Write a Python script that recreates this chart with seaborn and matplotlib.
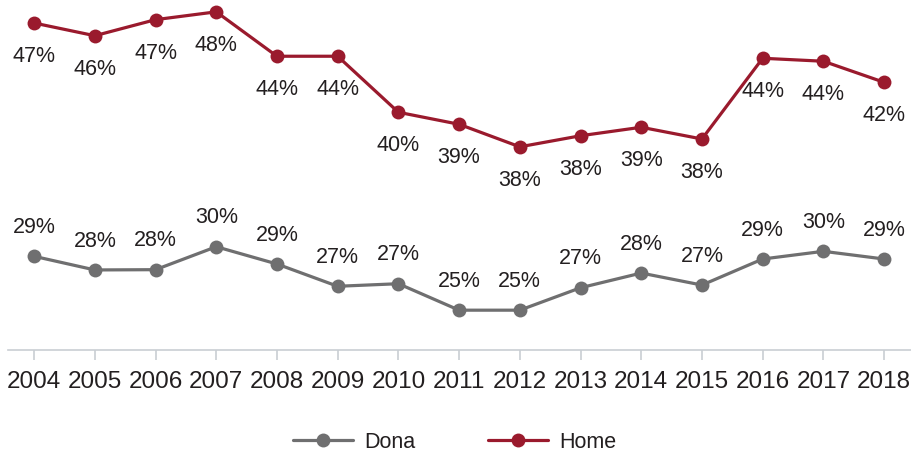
import pandas as pd
import seaborn as sns
import matplotlib.pyplot as plt

# Values (percent)
years = list(range(2004, 2019))
dona = [29.44, 28.43, 28.45, 30.15, 28.87, 27.22, 27.41, 25.45, 25.45, 27.11, 28.2, 27.31, 29.24, 29.81, 29.24]
home = [46.72, 45.78, 46.97, 47.55, 44.26, 44.26, 40.11, 39.22, 37.55, 38.37, 39.0, 38.13, 44.11, 43.89, 42.33]
series_names = ["Dona", "Home"]
series_colors = {"Dona": "#6f6f70", "Home": "#9a1a2d"}

df = pd.DataFrame({
    "year": years * 2,
    "value": dona + home,
    "serie": ["Dona"] * len(years) + ["Home"] * len(years),
})

sns.set_style("white")
plt.rcParams["font.family"] = ["Liberation Sans", "DejaVu Sans"]
text_color = "#231f20"

fig = plt.figure(figsize=(9.12, 4.52), dpi=100)
ax = fig.add_axes([8 / 912, 1 - 351 / 452, 1 - 8 / 912, 351 / 452])

sns.lineplot(data=df, x="year", y="value", hue="serie", hue_order=series_names,
             palette=series_colors, marker="o", markersize=10, markeredgewidth=0,
             linewidth=2.3, ax=ax, clip_on=False)

# percentage labels: Home below the points, Dona above
for x, v in zip(years, home):
    ax.annotate(f"{v:.0f}%", (x, v), xytext=(0, -23.5), textcoords="offset points",
                ha="center", va="center", fontsize=15.5, color=text_color)
for x, v in zip(years, dona):
    ax.annotate(f"{v:.0f}%", (x, v), xytext=(0, 21.5), textcoords="offset points",
                ha="center", va="center", fontsize=15.5, color=text_color)

ax.set_xlim(2004 - 0.43, 2018 + 0.46)
ax.set_ylim(22.5, 48.5)
ax.set_xticks(years)
ax.set_xticklabels([str(y) for y in years])
ax.set_yticks([])
ax.set_xlabel("")
ax.set_ylabel("")
for side in ["top", "right", "left"]:
    ax.spines[side].set_visible(False)
ax.spines["bottom"].set_color("#c9ced3")
ax.spines["bottom"].set_linewidth(1.2)
ax.tick_params(axis="x", length=7.5, width=1.2, color="#c9ced3", pad=7,
               labelsize=17.5, labelcolor=text_color, bottom=True)

ax.legend(loc="center", bbox_to_anchor=(0.494, -0.262), ncol=2, frameon=False,
          fontsize=15.5, handlelength=2.8, handletextpad=0.5, columnspacing=3.4,
          labelcolor=text_color)

fig.savefig("out.png", dpi=100)
